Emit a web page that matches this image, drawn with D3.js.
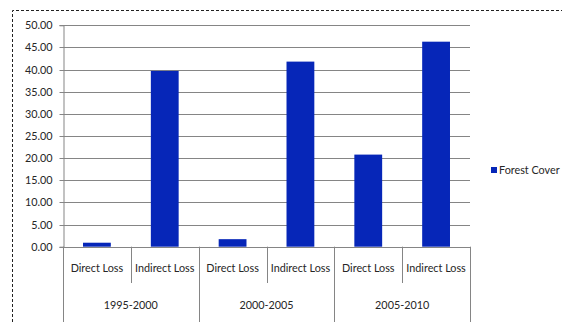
<!DOCTYPE html>
<html><head><meta charset="utf-8">
<script src="https://cdn.jsdelivr.net/npm/d3@7"></script>
<style>
html,body{margin:0;padding:0;background:#fff;}
svg text{font-family:Lato,"Open Sans",sans-serif;fill:#262626;}
</style></head>
<body>
<svg id="c" width="562" height="322"></svg>
<script>
const periods = ["1995-2000", "2000-2005", "2005-2010"];
const lossTypes = ["Direct Loss", "Indirect Loss"];
const forestCover = [0.9, 39.7, 1.7, 41.8, 20.8, 46.3];
const yTicks = [0, 5, 10, 15, 20, 25, 30, 35, 40, 45, 50];
const seriesName = "Forest Cover";

(function(){
const rows = [];
periods.forEach((p, i) => lossTypes.forEach((t, j) => rows.push({period: p, type: t, key: p + "|" + t, value: forestCover[i * lossTypes.length + j]})));

const svg = d3.select("#c");
const mL = 63, mR = 470, mT = 25.3, mB = 246.7;
const color = "#0626b8";
const fs = 10.8;

svg.append("path").attr("d", `M12.5,322 L12.5,10.5 L562,10.5`)
  .attr("fill", "none").attr("stroke", "#222").attr("stroke-width", 1).attr("stroke-dasharray", "3,2");

const y = d3.scaleLinear().domain([0, 50]).range([mB, mT]);
const xGroup = d3.scaleBand().domain(periods).range([mL, mR]);
const x = d3.scaleBand().domain(rows.map(d => d.key)).range([mL, mR]).paddingInner(0.59).paddingOuter(0.295);

svg.append("g").selectAll("line").data(yTicks.filter(v => v > 0)).join("line")
  .attr("x1", mL).attr("x2", mR)
  .attr("y1", d => Math.round(y(d)) + 0.5).attr("y2", d => Math.round(y(d)) + 0.5)
  .attr("stroke", "#858585").attr("stroke-width", 1);

const yAxis = d3.axisLeft(y).tickValues(yTicks).tickFormat(d3.format(".2f")).tickSize(4).tickPadding(7);
const ya = svg.append("g").attr("transform", `translate(${mL + 0.5},0)`).call(yAxis);
ya.select(".domain").attr("stroke", "#858585");
ya.selectAll(".tick line").attr("stroke", "#858585");
ya.selectAll(".tick text").attr("font-size", fs).style("font-family", "Lato, sans-serif").attr("fill", "#262626");
ya.selectAll(".tick").attr("transform", d => `translate(0,${Math.round(y(d)) + 0.5})`);

svg.append("g").selectAll("rect").data(rows).join("rect")
  .attr("x", d => x(d.key)).attr("width", x.bandwidth())
  .attr("y", d => y(d.value)).attr("height", d => y(0) - y(d.value))
  .attr("fill", color);

svg.append("line").attr("x1", mL).attr("x2", mR).attr("y1", Math.round(mB) + 0.5).attr("y2", Math.round(mB) + 0.5)
  .attr("stroke", "#858585");

const gb = xGroup.bandwidth();
const groupEdges = periods.map(p => xGroup(p)).concat([mR]);
svg.append("g").selectAll("line").data(groupEdges).join("line")
  .attr("x1", d => Math.round(d) + 0.5).attr("x2", d => Math.round(d) + 0.5)
  .attr("y1", mB).attr("y2", 322).attr("stroke", "#858585");
svg.append("g").selectAll("line").data(periods).join("line")
  .attr("x1", d => Math.round(xGroup(d) + gb / 2) + 0.5).attr("x2", d => Math.round(xGroup(d) + gb / 2) + 0.5)
  .attr("y1", mB).attr("y2", 283).attr("stroke", "#858585");

svg.append("g").selectAll("text").data(rows).join("text")
  .attr("x", d => x(d.key) + x.bandwidth() / 2).attr("y", 272)
  .attr("text-anchor", "middle").attr("font-size", fs).text(d => d.type);
svg.append("g").selectAll("text").data(periods).join("text")
  .attr("x", d => xGroup(d) + gb / 2).attr("y", 309)
  .attr("text-anchor", "middle").attr("font-size", fs).text(d => d);

const lg = svg.append("g").attr("transform", "translate(491,166)");
lg.append("rect").attr("width", 6).attr("height", 6).attr("y", 1).attr("fill", color);
lg.append("text").attr("x", 8).attr("y", 8).attr("font-size", fs).text(seriesName);
})();
</script>
</body></html>
